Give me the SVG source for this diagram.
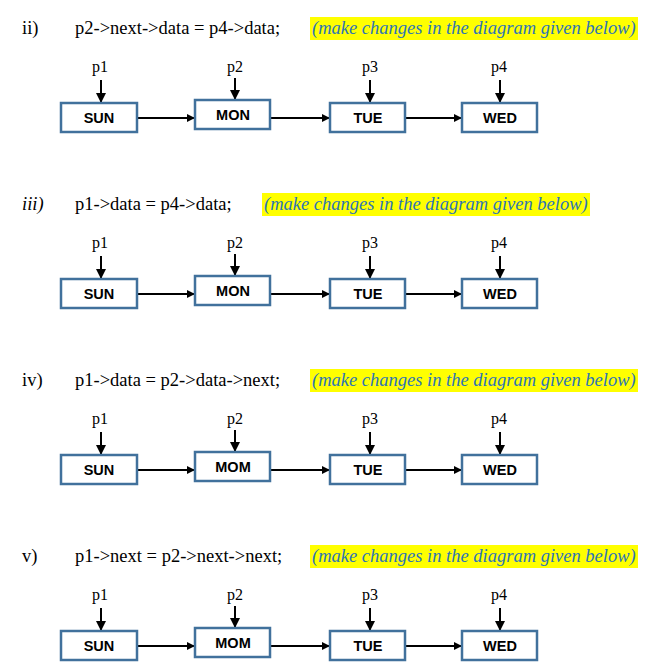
<svg xmlns="http://www.w3.org/2000/svg" width="652" height="671" viewBox="0 0 652 671">
<defs>
<marker id="ah" markerWidth="8" markerHeight="8" refX="7" refY="4" orient="auto" markerUnits="userSpaceOnUse"><path d="M0,0 L8,4 L0,8 z" fill="#000"/></marker>
<marker id="ad" markerWidth="10" markerHeight="10" refX="5" refY="9" orient="0" markerUnits="userSpaceOnUse"><path d="M0,0 L10,0 L5,10 z" fill="#000"/></marker>
<g id="row">
<g id="ptrs" font-family="Liberation Serif, serif" font-size="16" text-anchor="middle">
<text x="100" y="72">p1</text><text x="235" y="72">p2</text><text x="370" y="72">p3</text><text x="499" y="72">p4</text>
</g>
<g stroke="#000" stroke-width="2" fill="none">
<line x1="101" y1="80" x2="101" y2="102" marker-end="url(#ad)"/>
<line x1="235" y1="78" x2="235" y2="99" marker-end="url(#ad)"/>
<line x1="370" y1="80" x2="370" y2="102" marker-end="url(#ad)"/>
<line x1="500" y1="80" x2="500" y2="102" marker-end="url(#ad)"/>
<line x1="137" y1="118" x2="194" y2="118" marker-end="url(#ah)"/>
<line x1="270" y1="118" x2="329" y2="118" marker-end="url(#ah)"/>
<line x1="405" y1="118" x2="461" y2="118" marker-end="url(#ah)"/>
</g>
</g>
<style>.b{fill:#fff;stroke:#41719c;stroke-width:2.5}.n{font-family:"Liberation Sans",Arial,sans-serif;font-weight:bold;font-size:14.5px;text-anchor:middle}.t{font-family:"Liberation Serif",serif;font-size:18.5px}.h{font-family:"Liberation Serif",serif;font-size:18.5px;font-style:italic;fill:#2e75b6}</style>
</defs>
<g id="s2">
<rect x="310" y="17" width="328" height="23" fill="#ffff00"/>
<text class="t" x="22" y="34">ii)</text><text class="t" x="75" y="34">p2-&gt;next-&gt;data = p4-&gt;data;</text>
<text class="h" x="312" y="34">(make changes in the diagram given below)</text>
<g id="c2"><use href="#row"/></g>
<g id="n2a"><rect class="b" x="61" y="103" width="76" height="29"/><text class="n" x="99" y="123">SUN</text></g>
<g id="n2b"><rect class="b" x="195" y="100" width="75" height="29"/><text class="n" x="233" y="120">MON</text></g>
<g id="n2c"><rect class="b" x="330" y="103" width="75" height="29"/><text class="n" x="368" y="123">TUE</text></g>
<g id="n2d"><rect class="b" x="462" y="103" width="75" height="29"/><text class="n" x="500" y="123">WED</text></g>
</g>
<g id="s3" transform="translate(0,176)">
<rect x="262" y="17" width="328" height="23" fill="#ffff00"/>
<text class="t" x="22" y="34" font-style="italic">iii)</text><text class="t" x="75" y="34">p1-&gt;data = p4-&gt;data;</text>
<text class="h" x="264" y="34">(make changes in the diagram given below)</text>
<g id="c3"><use href="#row"/></g>
<g id="n3a"><rect class="b" x="61" y="103" width="76" height="29"/><text class="n" x="99" y="123">SUN</text></g>
<g id="n3b"><rect class="b" x="195" y="100" width="75" height="29"/><text class="n" x="233" y="120">MON</text></g>
<g id="n3c"><rect class="b" x="330" y="103" width="75" height="29"/><text class="n" x="368" y="123">TUE</text></g>
<g id="n3d"><rect class="b" x="462" y="103" width="75" height="29"/><text class="n" x="500" y="123">WED</text></g>
</g>
<g id="s4" transform="translate(0,352)">
<rect x="310" y="17" width="328" height="23" fill="#ffff00"/>
<text class="t" x="22" y="34">iv)</text><text class="t" x="75" y="34">p1-&gt;data = p2-&gt;data-&gt;next;</text>
<text class="h" x="312" y="34">(make changes in the diagram given below)</text>
<g id="c4"><use href="#row"/></g>
<g id="n4a"><rect class="b" x="61" y="103" width="76" height="29"/><text class="n" x="99" y="123">SUN</text></g>
<g id="n4b"><rect class="b" x="195" y="100" width="75" height="29"/><text class="n" x="233" y="120">MOM</text></g>
<g id="n4c"><rect class="b" x="330" y="103" width="75" height="29"/><text class="n" x="368" y="123">TUE</text></g>
<g id="n4d"><rect class="b" x="462" y="103" width="75" height="29"/><text class="n" x="500" y="123">WED</text></g>
</g>
<g id="s5" transform="translate(0,528)">
<rect x="310" y="17" width="328" height="23" fill="#ffff00"/>
<text class="t" x="22" y="34">v)</text><text class="t" x="75" y="34">p1-&gt;next = p2-&gt;next-&gt;next;</text>
<text class="h" x="312" y="34">(make changes in the diagram given below)</text>
<g id="c5"><use href="#row"/></g>
<g id="n5a"><rect class="b" x="61" y="103" width="76" height="29"/><text class="n" x="99" y="123">SUN</text></g>
<g id="n5b"><rect class="b" x="195" y="100" width="75" height="29"/><text class="n" x="233" y="120">MOM</text></g>
<g id="n5c"><rect class="b" x="330" y="103" width="75" height="29"/><text class="n" x="368" y="123">TUE</text></g>
<g id="n5d"><rect class="b" x="462" y="103" width="75" height="29"/><text class="n" x="500" y="123">WED</text></g>
</g>
</svg>
